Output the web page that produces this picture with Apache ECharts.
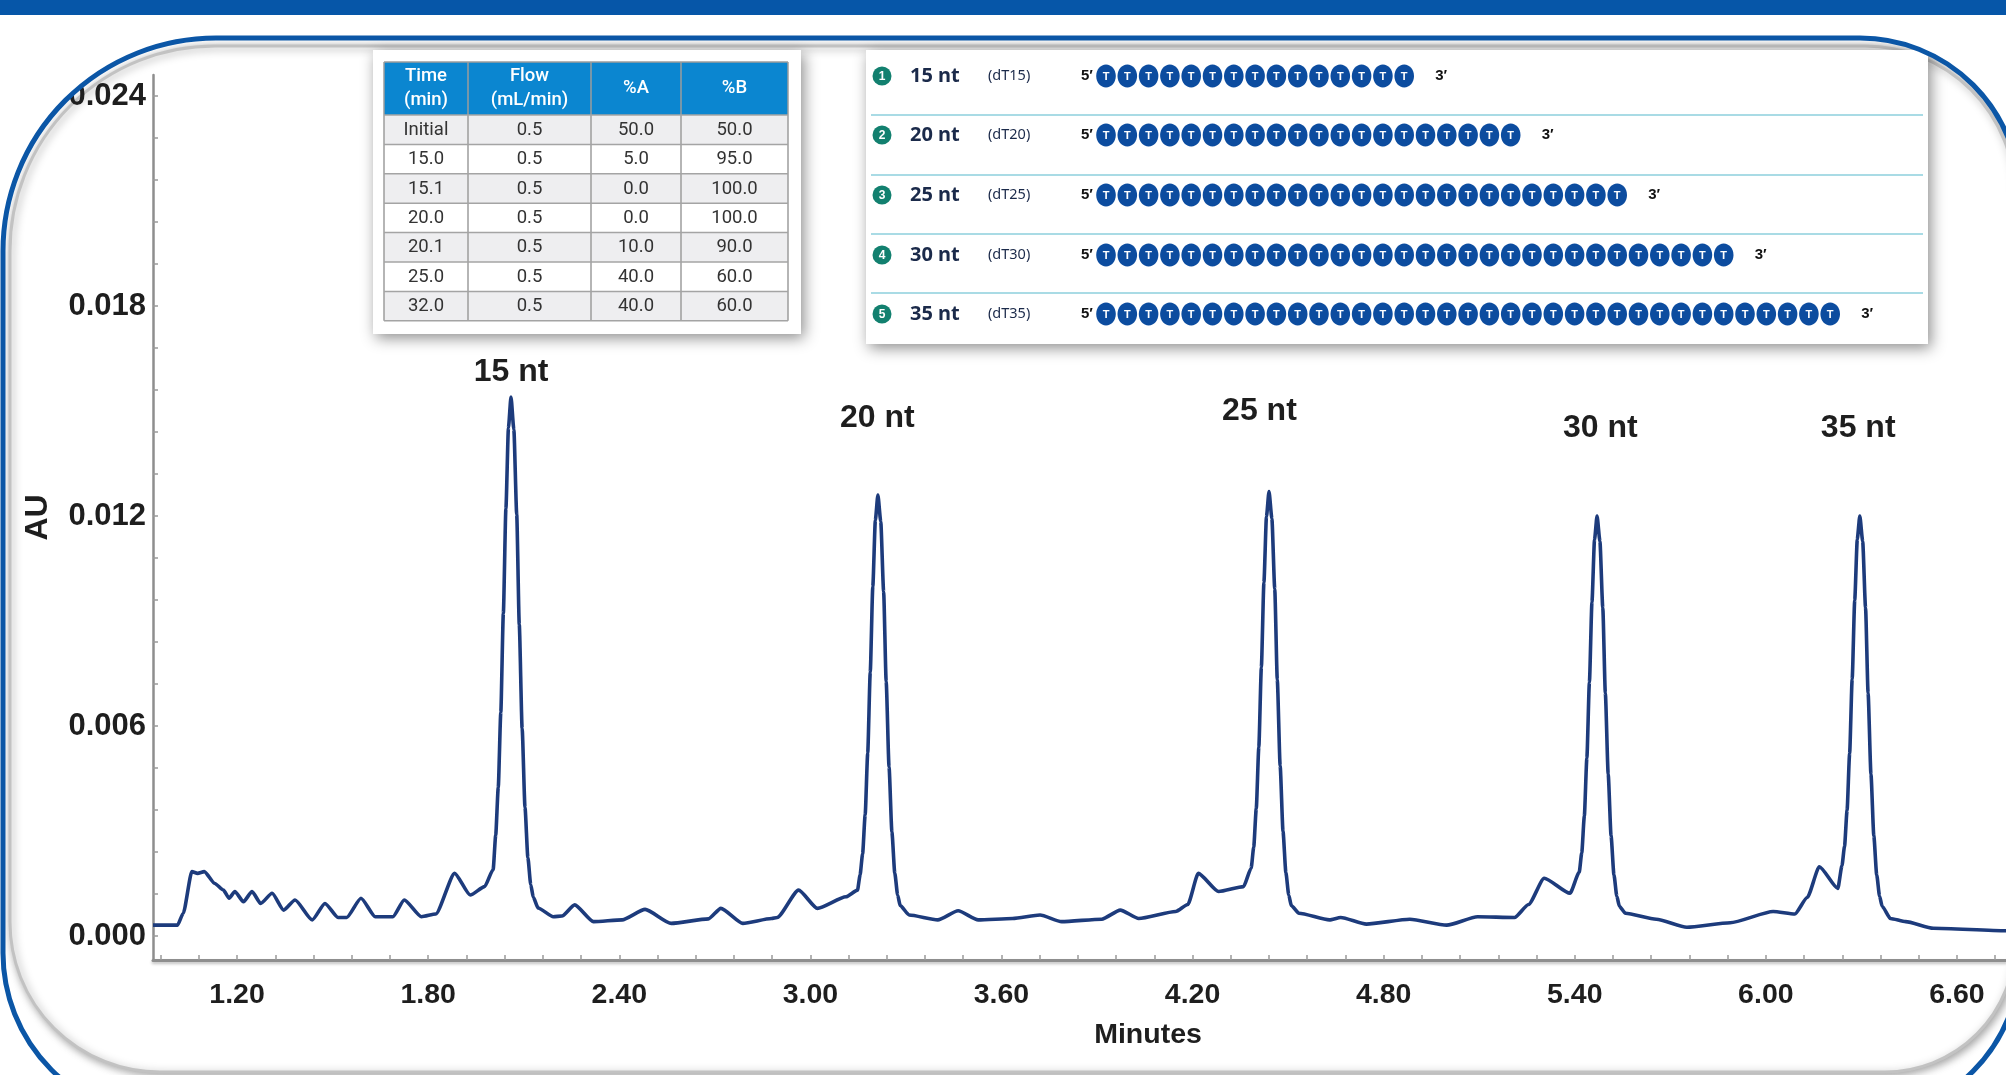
<!DOCTYPE html>
<html>
<head>
<meta charset="utf-8">
<script src="https://cdn.jsdelivr.net/npm/echarts@6/dist/echarts.min.js"></script>
<style>
html,body{margin:0;padding:0;background:#ffffff;}
#c{width:2006px;height:1075px;}
</style>
</head>
<body>
<div id="c"></div>
<script>
// ---------------- data ----------------
const traceTime = [
  0.936,0.960,1.013,1.031,1.058,1.076,1.097,1.130,1.157,1.175,1.193,1.220,1.247,1.274,1.310,1.346,1.382,1.436,1.476,1.517,
  1.544,1.589,1.634,1.689,1.725,1.779,1.824,1.883,1.932,1.977,2.004,
  2.012,2.020,2.028,2.036,2.044,2.052,2.060,2.069,2.078,2.086,2.095,2.104,2.113,2.122,2.130,2.145,
  2.193,2.220,2.260,2.319,2.409,2.481,2.563,2.680,2.719,2.788,2.878,2.896,2.963,3.022,3.112,3.148,
  3.156,3.164,3.172,3.180,3.188,3.196,3.204,3.212,3.221,3.230,3.238,3.247,3.256,3.265,3.274,3.282,
  3.310,3.400,3.464,3.527,3.635,3.721,3.789,3.915,3.973,4.031,4.147,4.185,4.218,4.282,4.360,
  4.384,4.392,4.400,4.408,4.416,4.424,4.432,4.440,4.449,4.458,4.466,4.475,4.484,4.493,4.502,4.510,
  4.534,4.630,4.665,4.746,4.882,4.998,5.095,5.211,5.255,5.304,5.385,
  5.414,5.422,5.430,5.438,5.446,5.454,5.462,5.470,5.479,5.488,5.496,5.505,5.514,5.523,5.532,5.540,
  5.559,5.656,5.752,5.888,6.023,6.091,6.130,6.168,6.226,
  6.239,6.247,6.255,6.263,6.271,6.279,6.287,6.295,6.304,6.313,6.321,6.330,6.339,6.348,6.357,6.365,
  6.391,6.439,6.526,6.754,6.800
];
const traceAU = [
  0.00031,0.00031,0.00031,0.00065,0.00184,0.00179,0.00184,0.00150,0.00131,0.00108,0.00127,0.00098,0.00127,0.00093,0.00122,0.00074,0.00103,0.00046,0.00093,0.00053,
  0.00053,0.00108,0.00055,0.00055,0.00103,0.00055,0.00063,0.00179,0.00117,0.00141,0.00190,
  0.00288,0.00424,0.00639,0.00922,0.01220,0.01452,0.01540,0.01447,0.01204,0.00890,0.00593,0.00367,0.00224,0.00147,0.00111,0.00080,
  0.00055,0.00057,0.00089,0.00041,0.00046,0.00076,0.00036,0.00049,0.00079,0.00036,0.00050,0.00053,0.00131,0.00079,0.00112,0.00131,
  0.00174,0.00235,0.00346,0.00522,0.00754,0.00998,0.01188,0.01260,0.01184,0.00984,0.00727,0.00483,0.00297,0.00180,0.00117,0.00087,
  0.00060,0.00046,0.00072,0.00046,0.00050,0.00060,0.00041,0.00048,0.00074,0.00050,0.00070,0.00090,0.00179,0.00127,0.00141,
  0.00194,0.00254,0.00364,0.00539,0.00768,0.01010,0.01198,0.01270,0.01193,0.00992,0.00732,0.00486,0.00299,0.00181,0.00117,0.00087,
  0.00065,0.00046,0.00053,0.00034,0.00048,0.00031,0.00055,0.00053,0.00090,0.00165,0.00122,
  0.00182,0.00238,0.00342,0.00508,0.00725,0.00954,0.01132,0.01200,0.01128,0.00938,0.00694,0.00462,0.00286,0.00175,0.00114,0.00085,
  0.00065,0.00048,0.00025,0.00038,0.00070,0.00063,0.00110,0.00198,0.00136,
  0.00201,0.00256,0.00359,0.00521,0.00734,0.00959,0.01133,0.01200,0.01128,0.00938,0.00694,0.00462,0.00286,0.00175,0.00114,0.00085,
  0.00050,0.00041,0.00022,0.00015,0.00015
];

const peakNames     = ['15 nt','20 nt','25 nt','30 nt','35 nt'];
const peakLabelTime = [2.06, 3.21, 4.41, 5.48, 6.29];
const peakLabelAU   = [0.0161, 0.0148, 0.0150, 0.0145, 0.0145];

const xTickLabels = [1.20,1.80,2.40,3.00,3.60,4.20,4.80,5.40,6.00,6.60];
const yTickLabels = [0.000,0.006,0.012,0.018,0.024];

// gradient table
const gradHeader = ['Time\n(min)','Flow\n(mL/min)','%A','%B'];
const gradTime = ['Initial','15.0','15.1','20.0','20.1','25.0','32.0'];
const gradFlow = ['0.5','0.5','0.5','0.5','0.5','0.5','0.5'];
const gradA    = ['50.0','5.0','0.0','0.0','10.0','40.0','40.0'];
const gradB    = ['50.0','95.0','100.0','100.0','90.0','60.0','60.0'];

// oligo legend
const oligoLen  = [15,20,25,30,35];
const oligoName = ['15 nt','20 nt','25 nt','30 nt','35 nt'];
const oligoCode = ['(dT15)','(dT20)','(dT25)','(dT30)','(dT35)'];

// ---------------- build ----------------
const FONT = '"Liberation Sans", Arial, Helvetica, sans-serif';
const xMinor = []; for (let i = 0; i <= 48; i++) xMinor.push(+(0.96 + i * 0.12).toFixed(2));
const yMinor = []; for (let i = 0; i <= 20; i++) yMinor.push(+(i * 0.0012).toFixed(4));

const chromData = traceTime.map((t, i) => [t, traceAU[i]]);

const G = [];
// card frame geometry
const frame = {x:3, y:38, w:2017, h:1080, r:[213,160,160,165]};
const M = 60;
// white mask outside the frame
G.push({type:'rect', shape:{x:frame.x - M, y:frame.y - M, width:frame.w + 2*M, height:frame.h + 2*M, r:frame.r.map(v => v + M)},
  style:{fill:null, stroke:'#ffffff', lineWidth:2*M}, z:90});
// top band
G.push({type:'rect', shape:{x:0,y:0,width:2006,height:15}, style:{fill:'#0656a8'}, z:100});
// card (gray bevel + white fill)
G.push({type:'rect', shape:{x:10,y:46,width:2005,height:1026,r:[205,150,130,150]},
  style:{fill:'#ffffff', stroke:'#c2c2c2', lineWidth:3, shadowBlur:8, shadowColor:'rgba(0,0,0,0.35)', shadowOffsetX:2, shadowOffsetY:2}, z:-50});
// blue frame
G.push({type:'rect', shape:{x:frame.x,y:frame.y,width:frame.w,height:frame.h,r:frame.r},
  style:{fill:null, stroke:'#0b56a6', lineWidth:5}, z:100});

// ---- gradient table ----
const colX = [384, 468, 591, 681, 788];
const hTop = 62, hBot = 115, rowH = 29.4;
const tBot = hBot + rowH * gradTime.length;
const TFONT = 'Roboto, "Liberation Sans", sans-serif';
G.push({type:'rect', shape:{x:373,y:50,width:428,height:284},
  style:{fill:'#ffffff', shadowBlur:14, shadowColor:'rgba(0,0,0,0.45)', shadowOffsetX:3, shadowOffsetY:4}, z:50});
G.push({type:'rect', shape:{x:colX[0],y:hTop,width:colX[4]-colX[0],height:hBot-hTop}, style:{fill:'#0b86d0'}, z:51});
const gradCols = [gradTime, gradFlow, gradA, gradB];
for (let r = 0; r < gradTime.length; r++) {
  G.push({type:'rect', shape:{x:colX[0],y:hBot + r*rowH,width:colX[4]-colX[0],height:rowH},
    style:{fill: r % 2 === 0 ? '#eeeef0' : '#ffffff'}, z:51});
  for (let c = 0; c < 4; c++) {
    G.push({type:'text', x:(colX[c]+colX[c+1])/2, y:hBot + (r+0.5)*rowH + 0.5,
      style:{text:gradCols[c][r], font:'18.5px ' + TFONT, fill:'#333333', textAlign:'center', textVerticalAlign:'middle'}, z:53});
  }
}
for (let c = 0; c < 4; c++) {
  G.push({type:'text', x:(colX[c]+colX[c+1])/2, y:(hTop+hBot)/2,
    style:{text:gradHeader[c], font:'500 18.5px ' + TFONT, lineHeight:24, fill:'#ffffff', textAlign:'center', textVerticalAlign:'middle'}, z:53});
}
for (let c = 0; c < colX.length; c++) {
  G.push({type:'line', shape:{x1:colX[c],y1:hTop,x2:colX[c],y2:tBot}, style:{stroke:'#9c9c9c', lineWidth:1.5}, z:52});
}
G.push({type:'line', shape:{x1:colX[0],y1:hTop,x2:colX[4],y2:hTop}, style:{stroke:'#9c9c9c', lineWidth:1.5}, z:52});
for (let r = 0; r <= gradTime.length; r++) {
  const yy = hBot + r*rowH;
  G.push({type:'line', shape:{x1:colX[0],y1:yy,x2:colX[4],y2:yy}, style:{stroke:'#a4a4a4', lineWidth:1.5}, z:52});
}

// ---- oligo legend panel ----
G.push({type:'rect', shape:{x:866,y:50,width:1062,height:294},
  style:{fill:'#ffffff', shadowBlur:14, shadowColor:'rgba(0,0,0,0.45)', shadowOffsetX:3, shadowOffsetY:4}, z:50});
const sepY = [115, 175, 234, 293];
sepY.forEach(yy => G.push({type:'line', shape:{x1:871,y1:yy,x2:1923,y2:yy}, style:{stroke:'#a9dbe5', lineWidth:2}, z:52}));
const rowY = [76, 135, 195, 255, 314];
const navy = '#1b2a4a';
oligoLen.forEach((n, i) => {
  const cy = rowY[i];
  G.push({type:'circle', shape:{cx:882, cy:cy, r:9.5}, style:{fill:'#12806f'}, z:53});
  G.push({type:'text', x:882, y:cy+0.5, style:{text:String(i+1), font:'bold 12px "Liberation Sans", sans-serif', fill:'#ffffff', textAlign:'center', textVerticalAlign:'middle'}, z:54});
  G.push({type:'text', x:910, y:cy, style:{text:oligoName[i], font:'bold 20px "Noto Sans", "Liberation Sans", sans-serif', fill:navy, textAlign:'left', textVerticalAlign:'middle'}, z:54});
  G.push({type:'text', x:988, y:cy, style:{text:oligoCode[i], font:'14.5px "Noto Sans", "Liberation Sans", sans-serif', fill:navy, textAlign:'left', textVerticalAlign:'middle'}, z:54});
  G.push({type:'text', x:1081, y:cy, style:{text:'5\u2032', font:'bold 15px "Liberation Sans", sans-serif', fill:'#111111', textAlign:'left', textVerticalAlign:'middle'}, z:54});
  let last = 0;
  for (let k = 0; k < n; k++) {
    const cx = 1106 + k * 21.3;
    last = cx;
    G.push({type:'ellipse', shape:{cx:cx, cy:cy, rx:9.8, ry:11.5}, style:{fill:'#0c4c9f'}, z:53});
    G.push({type:'text', x:cx, y:cy+0.5, style:{text:'T', font:'bold 11px "Liberation Sans", sans-serif', fill:'#ffffff', textAlign:'center', textVerticalAlign:'middle'}, z:54});
  }
  G.push({type:'text', x:last + 31, y:cy, style:{text:'3\u2032', font:'bold 15px "Liberation Sans", sans-serif', fill:'#111111', textAlign:'left', textVerticalAlign:'middle'}, z:54});
});

const labelStyle = {fontFamily:FONT, fontWeight:'bold', color:'#1e1e1e'};

const option = {
  backgroundColor:'#ffffff',
  animation:false,
  grid:{left:153, top:75, right:0, bottom:115, containLabel:false},
  xAxis:{
    type:'value', min:0.936, max:6.754,
    axisLine:{show:true, onZero:false, lineStyle:{color:'#8e8e8e', width:3, shadowBlur:3, shadowColor:'rgba(0,0,0,0.25)', shadowOffsetY:2}},
    axisTick:{show:true, inside:true, length:5, customValues:xMinor, lineStyle:{color:'#9a9a9a', width:1.5}},
    axisLabel:Object.assign({customValues:xTickLabels, formatter:v => Number(v).toFixed(2), margin:21, fontSize:28.5}, labelStyle),
    splitLine:{show:false},
    name:'Minutes', nameLocation:'middle', nameGap:61,
    nameTextStyle:Object.assign({fontSize:28.5, padding:[0,0,0,137]}, labelStyle)
  },
  yAxis:{
    type:'value', min:-0.000686, max:0.0246,
    axisLine:{show:true, onZero:false, lineStyle:{color:'#8e8e8e', width:2.5}},
    axisTick:{show:true, inside:true, length:5, customValues:yMinor, lineStyle:{color:'#9a9a9a', width:1.5}},
    axisLabel:Object.assign({customValues:yTickLabels, formatter:v => Number(v).toFixed(3), margin:7, fontSize:31}, labelStyle),
    splitLine:{show:false},
    name:'AU', nameLocation:'middle', nameGap:99,
    nameTextStyle:Object.assign({fontSize:32}, labelStyle)
  },
  series:[
    {
      type:'line', data:chromData, showSymbol:false, smooth:0.2, smoothMonotone:'x',
      lineStyle:{color:'#1d3b7c', width:3.6}, z:3, silent:true
    },
    {
      type:'scatter', silent:true, symbolSize:1, itemStyle:{color:'rgba(0,0,0,0)'},
      data:peakNames.map((n, i) => ({name:n, value:[peakLabelTime[i], peakLabelAU[i]]})),
      label:{show:true, position:'inside', formatter:'{b}', fontSize:32, color:'#1e1e1e',
        fontFamily:FONT, fontWeight:'bold', textBorderWidth:0, textBorderColor:'transparent', opacity:1},
      z:4
    }
  ],
  graphic:G
};

const chart = echarts.init(document.getElementById('c'), null, {renderer:'canvas', width:2006, height:1075});
chart.setOption(option);
</script>
</body>
</html>
